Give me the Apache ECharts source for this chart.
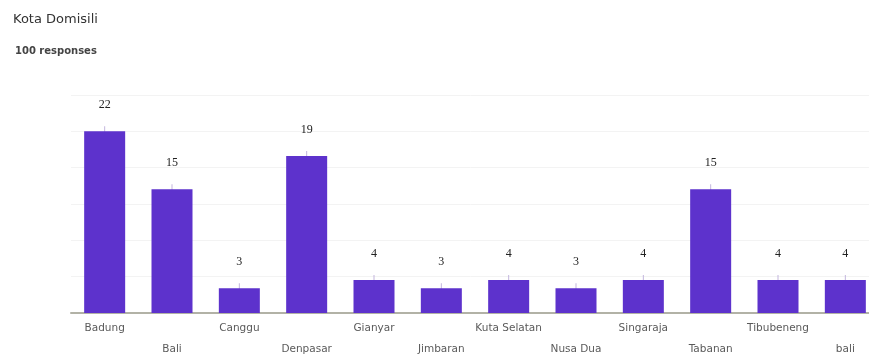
<!DOCTYPE html>
<html><head><meta charset="utf-8">
<script src="https://cdn.jsdelivr.net/npm/echarts@6/dist/echarts.min.js"></script>
<style>html,body{margin:0;padding:0;background:#fff}#c{width:869px;height:360px}</style>
</head><body><div id="c"></div>
<script>
const categories = ['Badung','Bali','Canggu','Denpasar','Gianyar','Jimbaran','Kuta Selatan','Nusa Dua','Singaraja','Tabanan','Tibubeneng','bali'];
const counts = [22,15,3,19,4,3,4,3,4,15,4,4];
const titleText = 'Kota Domisili';
const subtitleText = '100 responses';

const chart = echarts.init(document.getElementById('c'));
chart.setOption({
  animation: false,
  backgroundColor: '#fff',
  title: [
    {text: titleText, left: 8, top: 8, textStyle: {fontFamily: 'DejaVu Sans', fontSize: 13, fontWeight: 'normal', color: '#333'}},
    {text: subtitleText, left: 10, top: 41, textStyle: {fontFamily: 'DejaVu Sans', fontSize: 10, fontWeight: 'bold', color: '#444'}}
  ],
  grid: {left: 71, top: 95, width: 808, bottom: 47, containLabel: false, outerBoundsMode: 'none'},
  xAxis: {
    type: 'category', data: categories,
    axisLine: {lineStyle: {color: '#b2b2a6', width: 2}},
    axisTick: {show: false},
    axisLabel: {
      interval: 0, fontFamily: 'DejaVu Sans', fontSize: 10.5, color: '#5a5a5a', margin: 5, lineHeight: 21,
      formatter: (v, i) => (i % 2 === 1 ? '\n' + v : v)
    }
  },
  yAxis: {
    type: 'value', min: 0, max: 26.4, interval: 4.4,
    axisLabel: {show: false}, axisLine: {show: false}, axisTick: {show: false},
    splitLine: {lineStyle: {color: '#f3f3f3', width: 1}}
  },
  series: [
    {type: 'bar', data: counts, barWidth: 41, itemStyle: {color: '#5d32cc'}},
    {type: 'pictorialBar', data: counts, symbol: 'rect', symbolSize: [1, 10], symbolPosition: 'end',
     symbolOffset: [0, '-50%'], barGap: '-100%', itemStyle: {color: '#c3b6de'},
     label: {show: true, position: 'top', distance: 15, fontFamily: 'Liberation Serif, Times New Roman, serif', fontSize: 12, color: '#222'}}
  ]
});
</script></body></html>
